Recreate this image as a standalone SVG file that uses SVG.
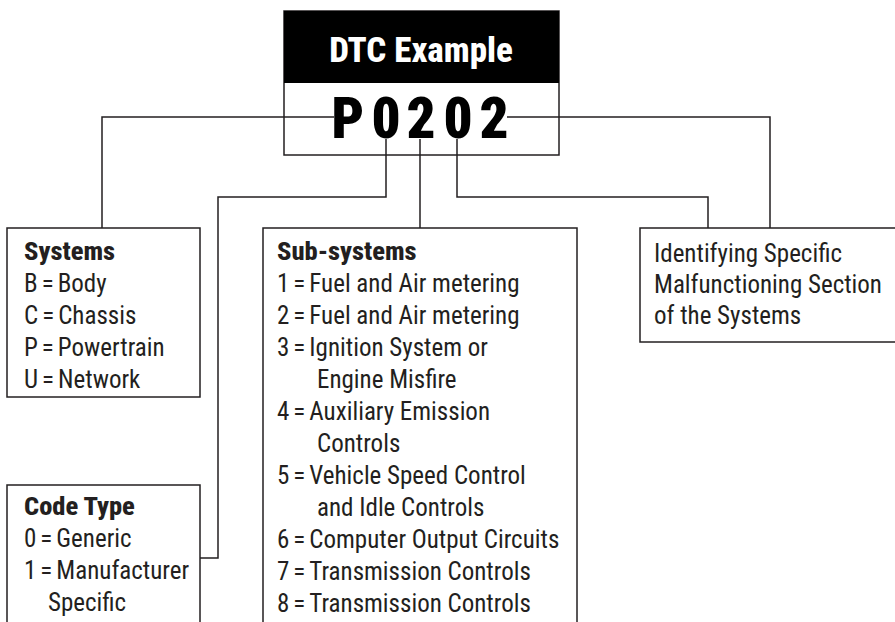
<svg xmlns="http://www.w3.org/2000/svg" width="895" height="622" viewBox="0 0 895 622">
<style>
.bg{fill:#ffffff}
.box{fill:#ffffff;stroke:#231f20;stroke-width:1.5}
.hdr{fill:#000000}
.ln{fill:none;stroke:#231f20;stroke-width:1.5}
text{font-family:"Liberation Sans Narrow","Roboto Condensed","DejaVu Sans Condensed","Liberation Sans",sans-serif;fill:#231f20;font-stretch:condensed}
.t{font-size:25px}
.b{font-size:26.5px;font-weight:800}
.title{font-size:35px;font-weight:800;fill:#ffffff}
.code{font-size:57px;font-weight:900;fill:#000000}
.eq{font-size:25px}
</style>
<rect class="bg" x="0" y="0" width="895" height="622"/>
<g id="dtc-example">
<rect class="box" x="284" y="11" width="275" height="144"/>
<rect class="hdr" x="284" y="11" width="275" height="72"/>
<text class="title" x="421" y="62" text-anchor="middle">DTC Example</text>
<text class="code" x="348" y="138" text-anchor="middle">P</text>
<text class="code" x="386" y="138" text-anchor="middle">0</text>
<text class="code" x="421" y="138" text-anchor="middle">2</text>
<text class="code" x="458" y="138" text-anchor="middle">0</text>
<text class="code" x="494" y="138" text-anchor="middle">2</text>
</g>
<g id="systems">
<rect class="box" x="7" y="228" width="193" height="169"/>
<text class="b" x="24" y="260">Systems</text>
<text class="t" x="24" y="292">B<tspan dx="4">=</tspan><tspan dx="4">Body</tspan></text>
<text class="t" x="24" y="324">C<tspan dx="4">=</tspan><tspan dx="4">Chassis</tspan></text>
<text class="t" x="24" y="356">P<tspan dx="4">=</tspan><tspan dx="4">Powertrain</tspan></text>
<text class="t" x="24" y="388">U<tspan dx="4">=</tspan><tspan dx="4">Network</tspan></text>
</g>
<g id="code-type">
<rect class="box" x="7" y="485" width="193" height="160"/>
<text class="b" x="24" y="515">Code Type</text>
<text class="t" x="24" y="547">0<tspan dx="4">=</tspan><tspan dx="4">Generic</tspan></text>
<text class="t" x="24" y="579">1<tspan dx="4">=</tspan><tspan dx="4">Manufacturer</tspan></text>
<text class="t" x="48" y="611">Specific</text>
</g>
<g id="sub-systems">
<rect class="box" x="263" y="228" width="314" height="420"/>
<text class="b" x="277" y="260">Sub-systems</text>
<text class="t" x="277" y="292">1<tspan dx="4">=</tspan><tspan dx="4">Fuel and Air metering</tspan></text>
<text class="t" x="277" y="324">2<tspan dx="4">=</tspan><tspan dx="4">Fuel and Air metering</tspan></text>
<text class="t" x="277" y="356">3<tspan dx="4">=</tspan><tspan dx="4">Ignition System or</tspan></text>
<text class="t" x="317" y="388">Engine Misfire</text>
<text class="t" x="277" y="420">4<tspan dx="4">=</tspan><tspan dx="4">Auxiliary Emission</tspan></text>
<text class="t" x="317" y="452">Controls</text>
<text class="t" x="277" y="484">5<tspan dx="4">=</tspan><tspan dx="4">Vehicle Speed Control</tspan></text>
<text class="t" x="317" y="516">and Idle Controls</text>
<text class="t" x="277" y="548">6<tspan dx="4">=</tspan><tspan dx="4">Computer Output Circuits</tspan></text>
<text class="t" x="277" y="580">7<tspan dx="4">=</tspan><tspan dx="4">Transmission Controls</tspan></text>
<text class="t" x="277" y="612">8<tspan dx="4">=</tspan><tspan dx="4">Transmission Controls</tspan></text>
</g>
<g id="identifying">
<rect class="box" x="640" y="228" width="270" height="114"/>
<text class="t" x="654" y="262">Identifying Specific</text>
<text class="t" x="654" y="293">Malfunctioning Section</text>
<text class="t" x="654" y="324">of the Systems</text>
</g>
<g id="connectors">
<polyline class="ln" points="334,117 102,117 102,228"/>
<polyline class="ln" points="386,139 386,197 218,197 218,558 200,558"/>
<polyline class="ln" points="420,139 420,228"/>
<polyline class="ln" points="457,139 457,197 708,197 708,228"/>
<polyline class="ln" points="507,117 770,117 770,228"/>
</g>
</svg>
